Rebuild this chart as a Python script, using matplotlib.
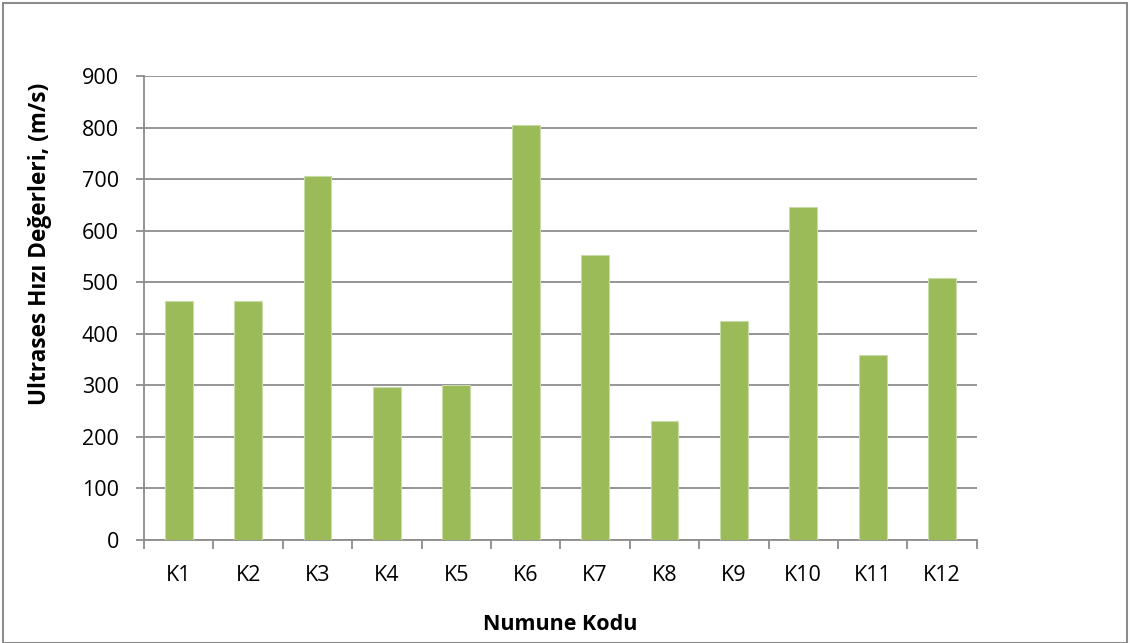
import matplotlib.pyplot as plt
import numpy as np
from matplotlib.patches import Rectangle

codes = ['K1', 'K2', 'K3', 'K4', 'K5', 'K6', 'K7', 'K8', 'K9', 'K10', 'K11', 'K12']
speeds = [463, 463, 706, 297, 300, 805, 553, 231, 425, 645, 359, 509]

plt.rcParams['font.family'] = ['Open Sans', 'DejaVu Sans']

fig = plt.figure(figsize=(11.3, 6.43), dpi=100)
ax = fig.add_axes([0.1274, 0.1602, 0.737, 0.7216])

x = np.arange(len(codes))
ax.bar(x, speeds, width=0.4, color='#9bbb59', edgecolor='#c9dca8', linewidth=0.8, zorder=3)

ax.set_xlim(-0.5, len(codes) - 0.5)
ax.set_ylim(0, 900)
ax.set_yticks(np.arange(0, 901, 100))
ax.yaxis.grid(True, color='#8c8c8c', linewidth=1.3, zorder=0)

ax.set_xticks(x)
ax.set_xticklabels(codes)
ax.set_xticks(np.arange(-0.5, len(codes), 1), minor=True)
ax.tick_params(axis='x', which='major', length=0, pad=18, labelsize=15.5)
ax.tick_params(axis='x', which='minor', length=6.5, color='#8c8c8c', width=1.3)
ax.tick_params(axis='y', length=6, color='#8c8c8c', width=1.3, labelsize=15.5, pad=12)

for s in ['top', 'right']:
    ax.spines[s].set_visible(False)
for s in ['left', 'bottom']:
    ax.spines[s].set_color('#8c8c8c')
    ax.spines[s].set_linewidth(1.3)

ax.set_xlabel('Numune Kodu', fontsize=15.5, fontweight='bold', labelpad=20)
ax.set_ylabel('Ultrases Hızı Değerleri, (m/s)', fontsize=16.3, fontweight='bold')
ax.yaxis.set_label_coords(-0.111, 0.638)

fig.patches.append(Rectangle((0.003, 0.0), 0.994, 0.996, transform=fig.transFigure,
                             fill=False, edgecolor='#8c8c8c', linewidth=1.5))

plt.savefig('out.png', dpi=100)
